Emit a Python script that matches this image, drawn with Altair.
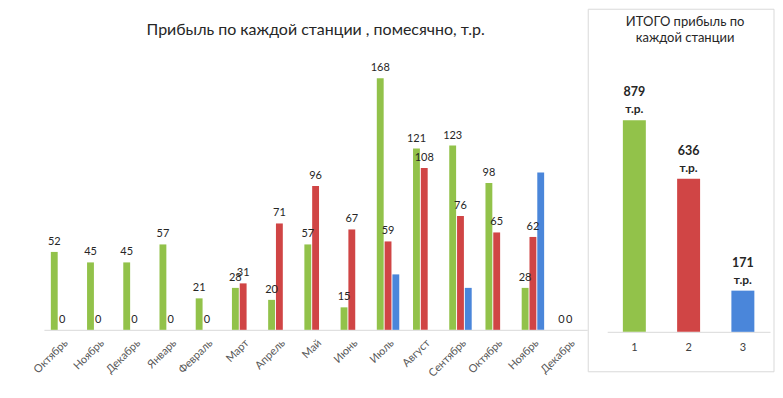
import altair as alt
import pandas as pd

months = ["Октябрь", "Ноябрь", "Декабрь", "Январь", "Февраль", "Март", "Апрель",
          "Май", "Июнь", "Июль", "Август", "Сентябрь", "Октябрь", "Ноябрь", "Декабрь"]
station1 = [52, 45, 45, 57, 21, 28, 20, 57, 15, 168, 121, 123, 98, 28, 0]
station2 = [0, 0, 0, 0, 0, 31, 71, 96, 67, 59, 108, 76, 65, 62, 0]
station3 = [None, None, None, None, None, None, None, None, None, 37, None, 28, None, 105, None]

totals_labels = ["1", "2", "3"]
totals_values = [879, 636, 171]
unit = "т.р."
right_title = ["ИТОГО прибыль по", "каждой станции"]

colors = ["#92C24A", "#D04545", "#4A86DA"]
total_colors = ["#92C24A", "#D04545", "#4A7DC8"]
FONT = "Lato"

rows = []
for i, m in enumerate(months):
    for s, vals in (("1", station1), ("2", station2), ("3", station3)):
        v = vals[i]
        if v is None:
            continue
        rows.append({"idx": i, "month": m, "station": s, "value": v,
                     "label": "" if s == "3" else str(v)})
df = pd.DataFrame(rows)

label_expr = "[" + ",".join(f"'{m}'" for m in months) + "][datum.value]"

x_enc = alt.X("idx:O", title=None,
              scale=alt.Scale(paddingInner=0.38, paddingOuter=0.19),
              axis=alt.Axis(labelExpr=label_expr, labelAngle=-45, labelFontSize=11,
                            labelColor="#595959", labelFont=FONT, ticks=False,
                            domainColor="#d9d9d9", labelPadding=7))
xoff = alt.XOffset("station:N", scale=alt.Scale(domain=["1", "2", "3"], paddingInner=0.12))
y_enc = alt.Y("value:Q", scale=alt.Scale(domain=[0, 180]), axis=None)

bars = alt.Chart(df).mark_bar().encode(
    x=x_enc, xOffset=xoff, y=y_enc,
    color=alt.Color("station:N", scale=alt.Scale(domain=["1", "2", "3"], range=colors), legend=None),
)
labels = alt.Chart(df).mark_text(baseline="bottom", dy=-5, fontSize=11, font=FONT, color="#262626").encode(
    x=x_enc, xOffset=xoff, y=y_enc, text="label:N"
)
left = alt.layer(bars, labels).properties(
    width=544, height=270,
    title=alt.TitleParams("Прибыль по каждой станции , помесячно, т.р.", fontSize=16,
                          font=FONT, fontWeight="normal", color="#262626", offset=22),
)

tdf = pd.DataFrame({"station": totals_labels, "value": totals_values,
                    "label": [str(v) for v in totals_values],
                    "unit": [unit] * len(totals_values)})
tx = alt.X("station:N", title=None, scale=alt.Scale(paddingInner=0.58, paddingOuter=0.29),
           axis=alt.Axis(labelAngle=0, ticks=False, domainColor="#d9d9d9", labelFontSize=11,
                         labelColor="#404040", labelFont=FONT, labelPadding=10))
ty = alt.Y("value:Q", scale=alt.Scale(domain=[0, 1128]), axis=None)
tbars = alt.Chart(tdf).mark_bar(size=23).encode(
    x=tx, y=ty,
    color=alt.Color("station:N", scale=alt.Scale(domain=totals_labels, range=total_colors), legend=None),
)
tlabels = alt.Chart(tdf).mark_text(baseline="middle", dy=-28, fontSize=12.5, fontWeight="bold",
                                   font=FONT, color="#262626").encode(
    x=tx, y=ty, text="label:N"
)
tunits = alt.Chart(tdf).mark_text(baseline="middle", dy=-11, fontSize=12, fontWeight="bold",
                                  font=FONT, color="#262626").encode(
    x=tx, y=ty, text="unit:N"
)
one = pd.DataFrame({"line1": [right_title[0]], "line2": [right_title[1]]})
frame = alt.Chart(one).mark_rect(filled=False, stroke="#d9d9d9", strokeWidth=1).encode(
    x=alt.value(-19), x2=alt.value(167), y=alt.value(-51), y2=alt.value(312)
)
title1 = alt.Chart(one).mark_text(baseline="middle", fontSize=13, font=FONT, fontWeight="normal",
                                  color="#262626").encode(
    x=alt.value(78), y=alt.value(-38), text="line1:N"
)
title2 = alt.Chart(one).mark_text(baseline="middle", fontSize=13, font=FONT, fontWeight="normal",
                                  color="#262626").encode(
    x=alt.value(78), y=alt.value(-22), text="line2:N"
)
right = alt.layer(frame, tbars, tlabels, tunits, title1, title2).properties(
    width=163, height=272,
)

chart = alt.hconcat(left, right, spacing=20, bounds="flush").properties(
    padding={"left": 23, "top": 0, "right": 0, "bottom": 0}
).configure_view(stroke=None)

chart.save("out.html", embed_options={"renderer": "svg", "actions": False})
